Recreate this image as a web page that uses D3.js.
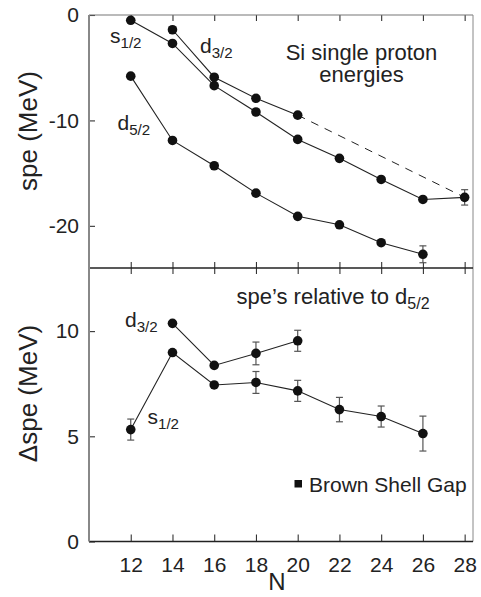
<!DOCTYPE html>
<html><head><meta charset="utf-8">
<script src="https://cdn.jsdelivr.net/npm/d3@7"></script>
<style>
html,body{margin:0;padding:0;background:#fff;}
text{font-family:"Liberation Sans",Arial,Helvetica,sans-serif;fill:#222;}
</style></head>
<body><svg id="c" width="481" height="597"></svg>
<script>
// ---------- data ----------
const nTicks = [12,14,16,18,20,22,24,26,28];
const topYTicks = [0,-10,-20];
const botYTicks = [0,5,10];

// top panel: single proton energies (MeV)
const nS = [12,14,16,18,20,22,24,26,28];
const speS = [-0.5,-2.7,-6.7,-9.2,-11.8,-13.6,-15.6,-17.5,-17.3];
const speSErr = [0,0,0,0,0,0,0,0,0.73];
const nD3 = [14,16,18,20];
const speD3 = [-1.4,-5.9,-7.9,-9.5];
const nD5 = [12,14,16,18,20,22,24,26];
const speD5 = [-5.8,-11.9,-14.3,-16.9,-19.1,-19.9,-21.6,-22.7];
const speD5Err = [0,0,0,0,0,0,0,0.8];
// dashed extrapolation: d3/2 at N=20 to level at N=28
const nDash = [20,28];
const speDash = [-9.5,-17.3];

// bottom panel: spe relative to d5/2 (MeV)
const nRS = [12,14,16,18,20,22,24,26];
const dS = [5.32,8.98,7.44,7.56,7.16,6.27,5.94,5.13];
const dSErr = [0.5,0,0,0.52,0.5,0.58,0.5,0.83];
const nRD3 = [14,16,18,20];
const dD3 = [10.37,8.37,8.94,9.54];
const dD3Err = [0,0,0.54,0.5];

// ---------- layout ----------
const svg = d3.select("#c");
const L = 89, R = 473, T = 15, M = 268, B = 541.5;
const x = d3.scaleLinear().domain([10,28.4]).range([L,R]);
const yT = d3.scaleLinear().domain([-24,0]).range([M,T]);
const yB = d3.scaleLinear().domain([0,13]).range([B,M]);

function zip(ns, vs, es){ return ns.map((n,i)=>({n:n,v:vs[i],e:es?es[i]:0})); }

function styleAxis(g){
  g.select(".domain").remove();
  g.selectAll(".tick line").attr("stroke","#333").attr("stroke-width",1.1);
}
svg.append("g").attr("transform",`translate(0,${T})`)
  .call(d3.axisTop(x).tickValues(nTicks).tickSize(-6).tickFormat(""))
  .call(styleAxis);
svg.append("g").attr("transform",`translate(0,${M})`)
  .call(d3.axisBottom(x).tickValues(nTicks).tickSize(-6).tickFormat(""))
  .call(styleAxis);
svg.append("g").attr("transform",`translate(0,${M})`)
  .call(d3.axisTop(x).tickValues(nTicks).tickSize(-6).tickFormat(""))
  .call(styleAxis);
const gxb = svg.append("g").attr("transform",`translate(0,${B})`)
  .call(d3.axisBottom(x).tickValues(nTicks).tickSize(-7).tickPadding(16).tickFormat(d3.format("d")))
  .call(styleAxis);
gxb.selectAll(".tick text").attr("font-size",21).attr("fill","#222")
  .attr("font-family","Liberation Sans, Arial, sans-serif");

const gyt = svg.append("g").attr("transform",`translate(${L},0)`)
  .call(d3.axisLeft(yT).tickValues(topYTicks).tickSize(-6).tickPadding(10).tickFormat(d=>d<0?"-"+Math.abs(d):String(d)))
  .call(styleAxis);
const gyb = svg.append("g").attr("transform",`translate(${L},0)`)
  .call(d3.axisLeft(yB).tickValues(botYTicks).tickSize(-6).tickPadding(10).tickFormat(d3.format("d")))
  .call(styleAxis);
[gyt,gyb].forEach(g=>g.selectAll(".tick text").attr("font-size",21).attr("fill","#222")
  .attr("font-family","Liberation Sans, Arial, sans-serif"));

// frame
svg.append("line").attr("x1",L).attr("x2",R).attr("y1",T).attr("y2",T).attr("stroke","#777").attr("stroke-width",1.2);
svg.append("line").attr("x1",R).attr("x2",R).attr("y1",T).attr("y2",B).attr("stroke","#888").attr("stroke-width",1);
svg.append("line").attr("x1",L).attr("x2",R).attr("y1",M).attr("y2",M).attr("stroke","#222").attr("stroke-width",1.3);
svg.append("line").attr("x1",L).attr("x2",R).attr("y1",B).attr("y2",B).attr("stroke","#222").attr("stroke-width",1.3);
svg.append("line").attr("x1",L).attr("x2",L).attr("y1",T).attr("y2",B).attr("stroke","#888").attr("stroke-width",2);

function series(data, y, dashed){
  const line = d3.line().x(d=>x(d.n)).y(d=>y(d.v));
  svg.append("path").datum(data).attr("d",line).attr("fill","none")
    .attr("stroke","#222").attr("stroke-width",dashed?1:1.1)
    .attr("stroke-dasharray",dashed?"8,7":null);
}
function markers(data, y){
  const eb = data.filter(d=>d.e>0);
  const g = svg.append("g");
  g.selectAll("line.v").data(eb).join("line")
    .attr("x1",d=>x(d.n)).attr("x2",d=>x(d.n))
    .attr("y1",d=>y(d.v-d.e)).attr("y2",d=>y(d.v+d.e))
    .attr("stroke","#555").attr("stroke-width",1.2);
  ["lo","hi"].forEach(k=>{
    g.selectAll("line."+k).data(eb).join("line")
      .attr("x1",d=>x(d.n)-3.5).attr("x2",d=>x(d.n)+3.5)
      .attr("y1",d=>y(k==="lo"?d.v-d.e:d.v+d.e)).attr("y2",d=>y(k==="lo"?d.v-d.e:d.v+d.e))
      .attr("stroke","#555").attr("stroke-width",1.2);
  });
  g.selectAll("circle").data(data).join("circle")
    .attr("cx",d=>x(d.n)).attr("cy",d=>y(d.v)).attr("r",4.8).attr("fill","#111");
}

const sTop = zip(nS,speS,speSErr), d3Top = zip(nD3,speD3), d5Top = zip(nD5,speD5,speD5Err);
series(zip(nDash,speDash), yT, true);
series(sTop,yT); series(d3Top,yT); series(d5Top,yT);
markers(sTop,yT); markers(d3Top,yT); markers(d5Top,yT);

const sBot = zip(nRS,dS,dSErr), d3Bot = zip(nRD3,dD3,dD3Err);
series(sBot,yB); series(d3Bot,yB);
markers(sBot,yB); markers(d3Bot,yB);

function orb(xp, yp, main, sub, fs){
  const t = svg.append("text").attr("x",xp).attr("y",yp).attr("font-size",fs||21);
  t.append("tspan").text(main);
  t.append("tspan").attr("font-size",(fs||21)*0.72).attr("dy",5).text(sub);
  return t;
}
orb(110,42.5,"s","1/2");
orb(200,53,"d","3/2");
orb(117.5,130,"d","5/2");
orb(125,326.5,"d","3/2");
orb(147.5,424,"s","1/2");

svg.append("text").attr("x",361.5).attr("y",59.5).attr("font-size",22).attr("text-anchor","middle").text("Si single proton");
svg.append("text").attr("x",361.5).attr("y",82).attr("font-size",22).attr("text-anchor","middle").text("energies");

const rel = svg.append("text").attr("x",236.5).attr("y",304).attr("font-size",22);
rel.append("tspan").text("spe\u2019s relative to d");
rel.append("tspan").attr("font-size",16).attr("dy",5).text("5/2");

svg.append("rect").attr("x",294.5).attr("y",480).attr("width",7.5).attr("height",7.5).attr("fill","#111");
svg.append("text").attr("x",309).attr("y",491.5).attr("font-size",21).text("Brown Shell Gap");

svg.append("text").attr("transform","translate(37,131) rotate(-90)").attr("text-anchor","middle")
  .attr("font-size",26).text("spe (MeV)");
svg.append("text").attr("transform","translate(37,393.5) rotate(-90)").attr("text-anchor","middle")
  .attr("font-size",26).text("\u0394spe (MeV)");
svg.append("text").attr("x",277).attr("y",590).attr("text-anchor","middle").attr("font-size",24).text("N");
</script></body></html>
